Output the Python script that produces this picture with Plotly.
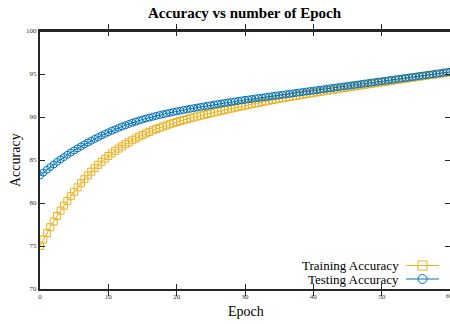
import plotly.graph_objects as go

# Epoch positions (half-epoch sampling)
epochs = [
    0.0, 0.5, 1.0, 1.5, 2.0, 2.5, 3.0, 3.5, 4.0, 4.5, 5.0, 5.5, 6.0, 6.5, 7.0, 7.5,
    8.0, 8.5, 9.0, 9.5, 10.0, 10.5, 11.0, 11.5, 12.0, 12.5, 13.0, 13.5, 14.0, 14.5,
    15.0, 15.5, 16.0, 16.5, 17.0, 17.5, 18.0, 18.5, 19.0, 19.5, 20.0, 20.5, 21.0,
    21.5, 22.0, 22.5, 23.0, 23.5, 24.0, 24.5, 25.0, 25.5, 26.0, 26.5, 27.0, 27.5,
    28.0, 28.5, 29.0, 29.5, 30.0, 30.5, 31.0, 31.5, 32.0, 32.5, 33.0, 33.5, 34.0,
    34.5, 35.0, 35.5, 36.0, 36.5, 37.0, 37.5, 38.0, 38.5, 39.0, 39.5, 40.0, 40.5,
    41.0, 41.5, 42.0, 42.5, 43.0, 43.5, 44.0, 44.5, 45.0, 45.5, 46.0, 46.5, 47.0,
    47.5, 48.0, 48.5, 49.0, 49.5, 50.0, 50.5, 51.0, 51.5, 52.0, 52.5, 53.0, 53.5,
    54.0, 54.5, 55.0, 55.5, 56.0, 56.5, 57.0, 57.5, 58.0, 58.5, 59.0, 59.5, 60.0,
]

training_accuracy = [
    75.00, 75.76, 76.49, 77.19, 77.85, 78.49, 79.10, 79.69, 80.25, 80.79, 81.31,
    81.82, 82.30, 82.77, 83.21, 83.64, 84.05, 84.44, 84.80, 85.15, 85.47, 85.77,
    86.06, 86.33, 86.59, 86.84, 87.07, 87.30, 87.51, 87.72, 87.91, 88.10, 88.27,
    88.44, 88.60, 88.75, 88.89, 89.03, 89.16, 89.29, 89.41, 89.53, 89.64, 89.75,
    89.86, 89.96, 90.06, 90.16, 90.26, 90.35, 90.45, 90.54, 90.63, 90.72, 90.81,
    90.90, 90.99, 91.08, 91.17, 91.25, 91.34, 91.42, 91.50, 91.58, 91.66, 91.74,
    91.82, 91.90, 91.97, 92.05, 92.12, 92.19, 92.26, 92.33, 92.40, 92.47, 92.53,
    92.60, 92.67, 92.74, 92.80, 92.87, 92.93, 92.99, 93.06, 93.12, 93.18, 93.24,
    93.31, 93.37, 93.43, 93.49, 93.55, 93.62, 93.68, 93.74, 93.80, 93.86, 93.92,
    93.98, 94.04, 94.10, 94.16, 94.22, 94.28, 94.34, 94.39, 94.45, 94.51, 94.57,
    94.63, 94.69, 94.75, 94.81, 94.86, 94.92, 94.98, 95.04, 95.10, 95.16, 95.22,
]

testing_accuracy = [
    83.20, 83.54, 83.86, 84.18, 84.48, 84.78, 85.06, 85.34, 85.60, 85.86, 86.11,
    86.35, 86.58, 86.81, 87.03, 87.24, 87.45, 87.65, 87.85, 88.04, 88.22, 88.40,
    88.57, 88.73, 88.89, 89.04, 89.19, 89.33, 89.46, 89.59, 89.71, 89.82, 89.93,
    90.03, 90.13, 90.23, 90.32, 90.41, 90.49, 90.58, 90.65, 90.73, 90.81, 90.88,
    90.96, 91.03, 91.10, 91.17, 91.24, 91.31, 91.37, 91.44, 91.50, 91.57, 91.63,
    91.69, 91.75, 91.81, 91.87, 91.93, 91.99, 92.04, 92.10, 92.16, 92.21, 92.26,
    92.32, 92.37, 92.43, 92.48, 92.53, 92.59, 92.64, 92.69, 92.75, 92.80, 92.85,
    92.91, 92.96, 93.02, 93.07, 93.12, 93.18, 93.23, 93.29, 93.34, 93.40, 93.45,
    93.51, 93.56, 93.61, 93.67, 93.72, 93.78, 93.83, 93.89, 93.94, 93.99, 94.05,
    94.10, 94.16, 94.21, 94.27, 94.32, 94.38, 94.43, 94.48, 94.54, 94.59, 94.65,
    94.70, 94.76, 94.81, 94.86, 94.92, 94.97, 95.03, 95.08, 95.14, 95.19, 95.25,
]

x_ticks = [0, 10, 20, 30, 40, 50, 60]
y_ticks = [70, 75, 80, 85, 90, 95, 100]

series_names = ["Training Accuracy", "Testing Accuracy"]
ORANGE = "#EDB120"
BLUE = "#0072BD"
AXIS = "#262626"
TICKTEXT = "#333333"
FONT = "Liberation Serif"

fig = go.Figure()
fig.add_trace(go.Scatter(
    x=epochs, y=training_accuracy, mode="lines+markers", name=series_names[0],
    line=dict(color=ORANGE, width=1),
    marker=dict(symbol="square-open", size=7, color=ORANGE, line=dict(width=1, color=ORANGE)),
    showlegend=False,
))
fig.add_trace(go.Scatter(
    x=epochs, y=testing_accuracy, mode="lines+markers", name=series_names[1],
    line=dict(color=BLUE, width=1),
    marker=dict(symbol="circle-open", size=7, color=BLUE, line=dict(width=1, color=BLUE)),
    showlegend=False,
))
# invisible trace so the right-hand tick axis is drawn
fig.add_trace(go.Scatter(x=[None], y=[None], yaxis="y2", showlegend=False, hoverinfo="skip"))

tick_style = dict(ticks="inside", ticklen=5, tickwidth=1, tickcolor=AXIS,
                  tickfont=dict(family=FONT, size=7, color=TICKTEXT))

fig.update_layout(
    width=450, height=324,
    margin=dict(l=40, r=0, t=31, b=35),
    paper_bgcolor="white", plot_bgcolor="white",
    font=dict(family=FONT, color="black"),
    xaxis=dict(range=[0, 60], tickvals=x_ticks, showgrid=False, zeroline=False,
               showline=True, linewidth=2, linecolor=AXIS, mirror="allticks", **tick_style),
    yaxis=dict(range=[70, 100], tickvals=y_ticks, showgrid=False, zeroline=False,
               showline=True, linewidth=2, linecolor=AXIS, mirror=False, **tick_style),
    yaxis2=dict(range=[70, 100], tickvals=y_ticks, overlaying="y", side="right",
                showgrid=False, zeroline=False, showline=False, showticklabels=False,
                ticks="inside", ticklen=5, tickwidth=1, tickcolor=AXIS),
    showlegend=False,
)

plot_l, plot_r, plot_t, plot_b = 40, 450, 31, 289
def px_to_paper(px, py):
    return (px - plot_l) / (plot_r - plot_l), (plot_b - py) / (plot_b - plot_t)

annotations = [
    dict(text="<b>Accuracy vs number of Epoch</b>", pos=(245, 13), size=15, angle=0),
    dict(text="Epoch", pos=(246, 311), size=14, angle=0),
    dict(text="Accuracy", pos=(15, 160), size=14, angle=-90),
]
for a in annotations:
    px, py = a.pop("pos")
    a["x"], a["y"] = px_to_paper(px, py)
    a.update(xref="paper", yref="paper", xanchor="center", yanchor="middle",
             showarrow=False, textangle=a.pop("angle"),
             font=dict(family=FONT, size=a.pop("size"), color="black"))

# tick label for the last x tick, which sits on the plot edge
annotations.append(dict(text=str(x_ticks[-1]), x=x_ticks[-1], xref="x", y=0, yref="paper",
                        yshift=-7, xanchor="center", yanchor="middle", showarrow=False,
                        font=dict(family=FONT, size=7, color=TICKTEXT)))

# Legend: label text on the left, line + marker sample on the right
legend_rows = [(series_names[0], ORANGE, "square", 265.5), (series_names[1], BLUE, "circle", 279)]
shapes = []
for name, color, sym, py in legend_rows:
    tx, ty = px_to_paper(401, py)
    annotations.append(dict(text=name, x=tx, y=ty, xref="paper", yref="paper",
                            xanchor="right", yanchor="middle", showarrow=False,
                            font=dict(family=FONT, size=13, color="black")))
    x0, yl = px_to_paper(406, py)
    x1, _ = px_to_paper(439, py)
    shapes.append(dict(type="line", xref="paper", yref="paper", x0=x0, x1=x1, y0=yl, y1=yl,
                       line=dict(color=color, width=1)))
    mx, my = px_to_paper(422.5, py)
    shapes.append(dict(type="rect" if sym == "square" else "circle",
                       xref="paper", yref="paper", xsizemode="pixel", ysizemode="pixel",
                       xanchor=mx, yanchor=my, x0=-4.5, x1=4.5, y0=-4.5, y1=4.5,
                       line=dict(color=color, width=1), fillcolor="rgba(0,0,0,0)"))

# top frame line (the right edge falls outside the page)
shapes.append(dict(type="line", xref="paper", yref="paper", x0=0, x1=1, y0=1, y1=1,
                   line=dict(color=AXIS, width=2)))

fig.update_layout(annotations=annotations, shapes=shapes)
fig.write_html("out.html")
